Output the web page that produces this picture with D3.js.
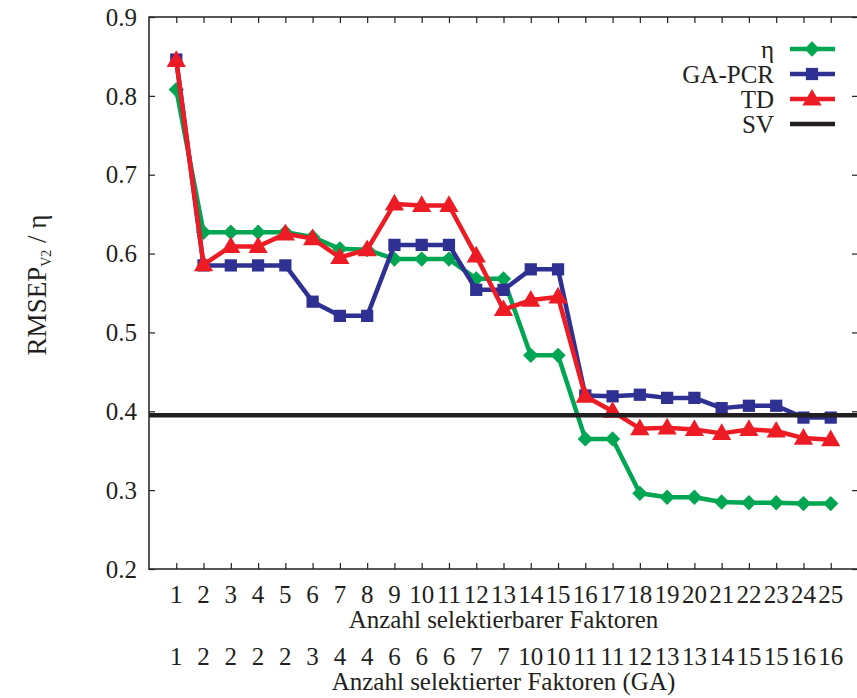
<!DOCTYPE html>
<html>
<head>
<meta charset="utf-8">
<script src="https://cdn.jsdelivr.net/npm/d3@7"></script>
<style>
  html, body { margin: 0; padding: 0; background: #fff; }
  svg { display: block; }
  text { font-family: "Liberation Serif", "Times New Roman", serif; fill: #231f20; }
</style>
</head>
<body>
<svg id="chart" width="857" height="698"></svg>
<script>
// ---- data ----
const factors = d3.range(1, 26);
const gaFactors = [1, 2, 2, 2, 2, 3, 4, 4, 6, 6, 6, 7, 7, 10, 10, 11, 11, 12, 13, 13, 14, 15, 15, 16, 16];
const etaValues = [0.808, 0.627, 0.627, 0.627, 0.627, 0.621, 0.606, 0.605, 0.593, 0.593, 0.593, 0.568, 0.568, 0.471, 0.471, 0.365, 0.365, 0.296, 0.291, 0.291, 0.285, 0.284, 0.284, 0.283, 0.283];
const gapcrValues = [0.846, 0.585, 0.585, 0.585, 0.585, 0.539, 0.521, 0.521, 0.611, 0.611, 0.611, 0.554, 0.554, 0.580, 0.580, 0.420, 0.419, 0.421, 0.417, 0.417, 0.404, 0.407, 0.407, 0.392, 0.392];
const tdValues = [0.845, 0.586, 0.609, 0.609, 0.625, 0.619, 0.595, 0.605, 0.663, 0.661, 0.661, 0.597, 0.529, 0.541, 0.545, 0.419, 0.400, 0.378, 0.379, 0.377, 0.372, 0.377, 0.375, 0.366, 0.364];
const svValue = 0.395;
const yTicks = [0.2, 0.3, 0.4, 0.5, 0.6, 0.7, 0.8, 0.9];
const seriesNames = ["η", "GA-PCR", "TD", "SV"];

const colors = { eta: "#00a651", gapcr: "#2e3192", td: "#ed1c24", sv: "#231f20" };

(function () {
const svg = d3.select("#chart");
const pL = 149, pR = 858, pT = 17, pB = 569;
const x = d3.scaleLinear().domain([0, 26]).range([pL, pR]);
const y = d3.scaleLinear().domain([0.2, 0.9]).range([pB, pT]);
const FS = 25;

// frame ticks (inward, all four sides)
const tickLen = 6;
const axG = svg.append("g");
const xAxisB = d3.axisBottom(x).tickValues(factors).tickSize(-tickLen).tickFormat("");
const xAxisT = d3.axisTop(x).tickValues(factors).tickSize(-tickLen).tickFormat("");
const yAxisL = d3.axisLeft(y).tickValues(yTicks).tickSize(-tickLen).tickFormat("");
const yAxisR = d3.axisRight(y).tickValues(yTicks).tickSize(-tickLen).tickFormat("");
[[xAxisB, `translate(0,${pB})`], [xAxisT, `translate(0,${pT})`],
 [yAxisL, `translate(${pL},0)`], [yAxisR, `translate(${pR},0)`]].forEach(([ax, tr]) => {
  const g = axG.append("g").attr("transform", tr).call(ax);
  g.select(".domain").remove();
  g.selectAll("line").attr("stroke", "#231f20").attr("stroke-width", 1.2);
});
// frame
svg.append("rect").attr("x", pL).attr("y", pT).attr("width", pR - pL).attr("height", pB - pT)
  .attr("fill", "none").attr("stroke", "#231f20").attr("stroke-width", 1.5);

// tick labels
svg.append("g").selectAll("text").data(yTicks).join("text")
  .attr("x", pL - 12).attr("y", d => y(d)).attr("dy", "0.35em")
  .attr("text-anchor", "end").attr("font-size", FS).text(d => d.toFixed(1));
svg.append("g").selectAll("text").data(factors).join("text")
  .attr("x", d => x(d)).attr("y", 603).attr("text-anchor", "middle").attr("font-size", FS).text(d => d);
svg.append("g").selectAll("text").data(gaFactors).join("text")
  .attr("x", (d, i) => x(factors[i])).attr("y", 665).attr("text-anchor", "middle").attr("font-size", FS).text(d => d);
svg.append("text").attr("x", (x(1) + x(25)) / 2).attr("y", 628).attr("text-anchor", "middle")
  .attr("font-size", FS).text("Anzahl selektierbarer Faktoren");
svg.append("text").attr("x", (x(1) + x(25)) / 2).attr("y", 690).attr("text-anchor", "middle")
  .attr("font-size", FS).text("Anzahl selektierter Faktoren (GA)");

// y label
const yl = svg.append("text").attr("transform", "translate(46,285) rotate(-90)")
  .attr("text-anchor", "middle").attr("font-size", 27);
yl.append("tspan").text("RMSEP");
yl.append("tspan").attr("font-size", 14).attr("dy", 5).text("V2");
yl.append("tspan").attr("dy", -5).text(" / η");

// series
const line = d3.line().x((d, i) => x(factors[i])).y(d => y(d));
const sym = {
  eta: d3.symbol().type(d3.symbolDiamond2).size(150),
  gapcr: d3.symbol().type(d3.symbolSquare).size(150),
  td: d3.symbol().type(d3.symbolTriangle).size(160)
};
function drawSeries(vals, key) {
  svg.append("path").datum(vals).attr("d", line).attr("fill", "none")
    .attr("stroke", colors[key]).attr("stroke-width", 4.5).attr("stroke-linejoin", "round");
  svg.append("g").selectAll("path").data(vals).join("path")
    .attr("transform", (d, i) => `translate(${x(factors[i])},${y(d) + (key === "td" ? 1 : 0)})`)
    .attr("d", sym[key]())
    .attr("fill", colors[key]);
}
drawSeries(etaValues, "eta");
drawSeries(gapcrValues, "gapcr");
drawSeries(tdValues, "td");
svg.append("line").attr("x1", pL).attr("x2", pR).attr("y1", y(svValue)).attr("y2", y(svValue))
  .attr("stroke", colors.sv).attr("stroke-width", 4.5);

// legend
const legKeys = ["eta", "gapcr", "td", "sv"];
const leg = svg.append("g");
legKeys.forEach((k, i) => {
  const yy = 49 + i * 25;
  leg.append("text").attr("x", 774).attr("y", yy).attr("dy", "0.35em").attr("text-anchor", "end")
    .attr("font-size", FS).text(seriesNames[i]);
  leg.append("line").attr("x1", 790).attr("x2", 835).attr("y1", yy).attr("y2", yy)
    .attr("stroke", colors[k]).attr("stroke-width", 4.5);
  if (k !== "sv") {
    leg.append("path").attr("transform", `translate(812,${yy + (k === "td" ? 1 : 0)})`)
      .attr("d", sym[k]())
      .attr("fill", colors[k]);
  }
});
})();
</script>
</body>
</html>
